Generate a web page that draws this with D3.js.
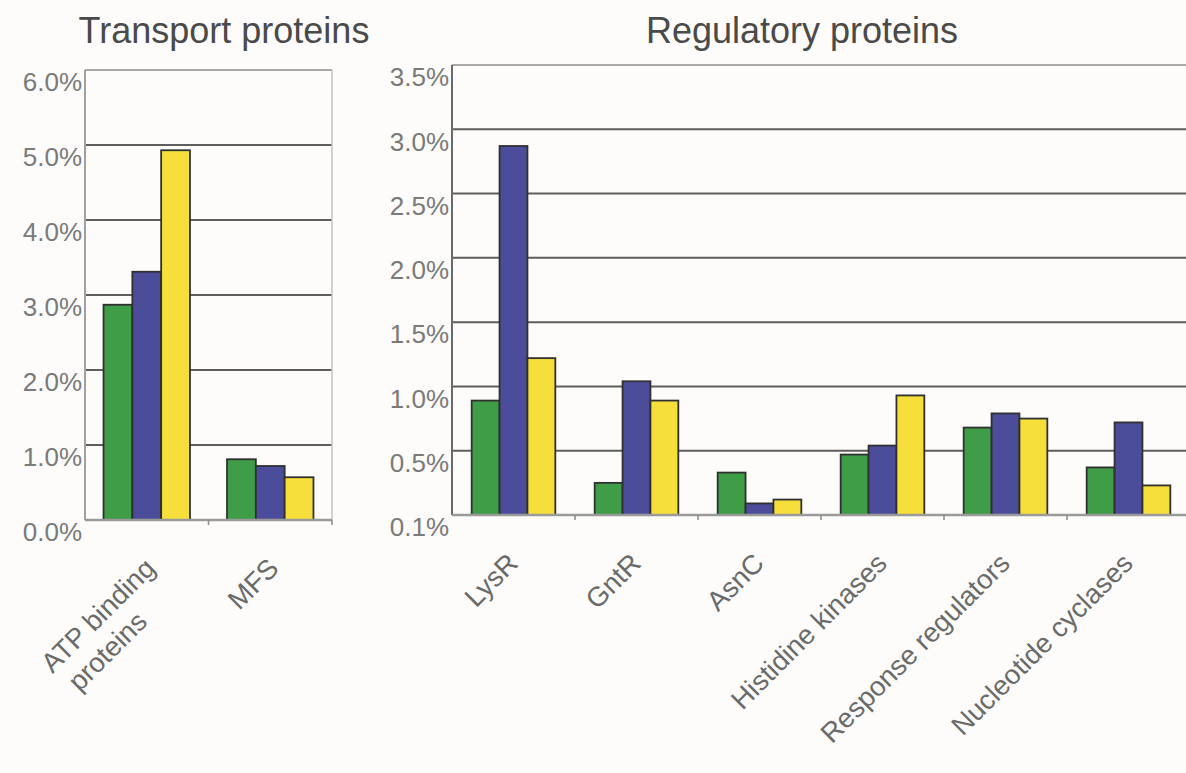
<!DOCTYPE html>
<html>
<head>
<meta charset="utf-8">
<script src="https://cdn.jsdelivr.net/npm/d3@7"></script>
<style>
  html, body { margin: 0; padding: 0; background: #fdfcfa; }
  svg { display: block; font-family: "Liberation Sans", Arial, sans-serif; }
</style>
</head>
<body>
<svg id="drawing_region"></svg>
<script>
// data (percent)
const transportCats = ["ATP binding proteins", "MFS"];
const transportGreen = [2.87, 0.81];
const transportBlue = [3.31, 0.72];
const transportYellow = [4.93, 0.57];
const transportTicks = [0, 1, 2, 3, 4, 5, 6];
const transportTickLabels = ["0.0%", "1.0%", "2.0%", "3.0%", "4.0%", "5.0%", "6.0%"];

const regulatoryCats = ["LysR", "GntR", "AsnC", "Histidine kinases", "Response regulators", "Nucleotide cyclases"];
const regulatoryGreen = [0.89, 0.25, 0.33, 0.47, 0.68, 0.37];
const regulatoryBlue = [2.87, 1.04, 0.09, 0.54, 0.79, 0.72];
const regulatoryYellow = [1.22, 0.89, 0.12, 0.93, 0.75, 0.23];
const regulatoryTicks = [0, 0.5, 1, 1.5, 2, 2.5, 3, 3.5];
// the printed baseline label really says 0.1%
const regulatoryTickLabels = ["0.1%", "0.5%", "1.0%", "1.5%", "2.0%", "2.5%", "3.0%", "3.5%"];

const seriesNames = ["green", "blue", "yellow"];
const seriesColors = ["#3f9d48", "#4b4d9a", "#f6df3a"];

const svg = d3.select('#drawing_region')
    .attr('width', 1186)
    .attr('height', 773);

class GroupedBarChart {

    constructor(config, cats, series, ticks, tickLabels) {
        this.config = config;
        this.cats = cats;
        this.data = cats.map((c, i) => ({cat: c, vals: series.map(s => s[i])}));
        this.ticks = ticks;
        this.tickLabels = tickLabels;
        this.init();
        this.render();
    }

    init() {
        let self = this;
        let c = self.config;

        self.xscale = d3.scaleBand()
            .domain(self.cats)
            .range([c.left, c.right])
            .paddingInner(c.pad)
            .paddingOuter(c.pad / 2);

        self.xsub = d3.scaleBand()
            .domain(seriesNames)
            .range([0, self.xscale.bandwidth()]);

        self.yscale = d3.scaleLinear()
            .domain([0, c.max])
            .range([c.bottom, c.top]);

        self.g = svg.append('g');
    }

    render() {
        let self = this;
        let c = self.config;
        let step = self.xscale.step();

        // title
        self.g.append('text')
            .attr('x', c.titleX)
            .attr('y', 43)
            .attr('text-anchor', 'middle')
            .attr('font-size', '36px')
            .attr('fill', '#4a4a4a')
            .text(c.title);

        // grid lines
        self.g.selectAll('.grid')
            .data(self.ticks.slice(1))
            .join('line')
            .attr('class', 'grid')
            .attr('x1', c.left)
            .attr('x2', c.right)
            .attr('y1', d => self.yscale(d))
            .attr('y2', d => self.yscale(d))
            .attr('stroke', d => d === c.max ? '#a8a8a8' : '#5e5e5e')
            .attr('stroke-width', 2);

        if (c.frame) {
            self.g.append('line')
                .attr('x1', c.right).attr('x2', c.right)
                .attr('y1', c.top).attr('y2', c.bottom)
                .attr('stroke', '#c4c4c4').attr('stroke-width', 1.5);
        }

        // y axis labels
        let yaxis = d3.axisLeft(self.yscale)
            .tickValues(self.ticks)
            .tickFormat((d, i) => self.tickLabels[i])
            .tickSize(0)
            .tickPadding(3);

        let ag = self.g.append('g')
            .attr('transform', `translate(${c.left}, 0)`)
            .call(yaxis);
        ag.select('.domain').remove();
        ag.selectAll('text')
            .attr('font-size', '26px')
            .attr('font-family', '"Liberation Sans", Arial, sans-serif')
            .attr('fill', '#7a7a7a')
            .attr('dy', '0.8em');

        // bars
        self.g.selectAll('.grp')
            .data(self.data)
            .join('g')
            .attr('class', 'grp')
            .attr('transform', d => `translate(${self.xscale(d.cat)}, 0)`)
            .selectAll('rect')
            .data(d => d.vals.map((v, i) => ({name: seriesNames[i], v: v, col: seriesColors[i]})))
            .join('rect')
            .attr('x', d => self.xsub(d.name))
            .attr('y', d => self.yscale(d.v))
            .attr('width', self.xsub.bandwidth())
            .attr('height', d => self.yscale(0) - self.yscale(d.v))
            .attr('fill', d => d.col)
            .attr('stroke', '#303030')
            .attr('stroke-width', 1.8);

        // y axis line + baseline
        self.g.append('line')
            .attr('x1', c.left).attr('x2', c.left)
            .attr('y1', c.top).attr('y2', c.bottom)
            .attr('stroke', c.axisCol).attr('stroke-width', 2);
        self.g.append('line')
            .attr('x1', c.left).attr('x2', c.right)
            .attr('y1', c.bottom).attr('y2', c.bottom)
            .attr('stroke', '#9a9a9a').attr('stroke-width', 2.5);

        // little ticks between categories
        let bounds = self.cats.map(d => self.xscale(d) - step * c.pad / 2).concat([c.right]);
        self.g.selectAll('.xtick')
            .data(bounds.slice(1))
            .join('line')
            .attr('class', 'xtick')
            .attr('x1', d => d).attr('x2', d => d)
            .attr('y1', c.bottom).attr('y2', c.bottom + 5)
            .attr('stroke', '#8a8a8a').attr('stroke-width', 1.5);

        // category labels, slanted
        let lab = self.g.selectAll('.lab')
            .data(self.cats)
            .join('text')
            .attr('class', 'lab')
            .attr('transform', d => `translate(${self.xscale(d) + self.xscale.bandwidth() / 2 + c.labDx}, ${c.bottom + 50}) rotate(-45)`)
            .attr('text-anchor', 'end')
            .attr('font-size', '27.5px')
            .attr('fill', '#6a6a6a');

        lab.each(function(d) {
            let t = d3.select(this);
            let parts = c.wrap && c.wrap[d] ? c.wrap[d] : [d];
            let first = t.append('tspan').attr('x', 0).attr('y', 0).text(parts[0]);
            if (parts.length > 1) {
                let w = first.node().getComputedTextLength();
                t.append('tspan')
                    .attr('x', -w + 6)
                    .attr('y', 32)
                    .attr('text-anchor', 'start')
                    .text(parts[1]);
            }
        });
    }
}

const tp = new GroupedBarChart({
    title: 'Transport proteins', titleX: 224,
    left: 85, right: 332, top: 70, bottom: 520, max: 6,
    pad: 0.3, frame: true, axisCol: '#a0a0a0', labDx: 10,
    wrap: {"ATP binding proteins": ["ATP binding", "proteins"]}
}, transportCats, [transportGreen, transportBlue, transportYellow], transportTicks, transportTickLabels);

const rp = new GroupedBarChart({
    title: 'Regulatory proteins', titleX: 802,
    left: 452, right: 1190, top: 65, bottom: 515, max: 3.5,
    pad: 0.32, frame: false, axisCol: '#6a6a6a', labDx: 6
}, regulatoryCats, [regulatoryGreen, regulatoryBlue, regulatoryYellow], regulatoryTicks, regulatoryTickLabels);
</script>
</body>
</html>
